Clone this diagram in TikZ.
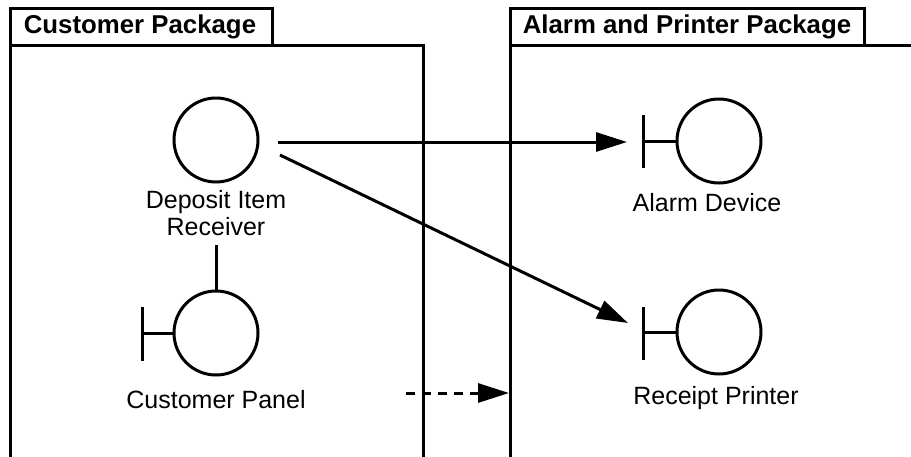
\documentclass[tikz,border=0pt]{standalone}
\usepackage{fontspec}
\setmainfont{Liberation Sans}
\usetikzlibrary{arrows.meta}
\begin{document}
\begin{tikzpicture}[x=1pt,y=-1pt,
  line width=3pt,
  ucirc/.style={circle,draw,line width=3pt,minimum size=84pt,inner sep=0pt},
  lbl/.style={font=\fontsize{25}{27}\selectfont,align=center,inner sep=0pt},
  ttl/.style={font=\fontsize{25.8}{27}\selectfont\bfseries,inner sep=0pt},
  tabbox/.style={draw,line width=3pt,inner sep=0pt},
  arr/.style={-{Triangle[length=31pt,width=19pt]},line width=3pt},
  darr/.style={arr,dash pattern=on 9pt off 7pt}
]
\useasboundingbox (0,0) rectangle (911,456);
% packages
\draw (10,45) -- (423,45) -- (423,458);
\draw (10,8) -- (10,458);
\node[tabbox,minimum width=262pt,minimum height=37pt] (tab1) at (141,26.5) {};
\node[ttl] (t1) at (140,27) {Customer Package};
\draw (864,45) -- (913,45);
\draw (510,8) -- (510,458);
\node[tabbox,minimum width=354pt,minimum height=37pt] (tab2) at (687,26.5) {};
\node[ttl] (t2) at (687,27) {Alarm and Printer Package};
% Deposit Item Receiver
\node[ucirc] (dir) at (216,140) {};
\node[lbl] (dirl) at (216,213) {Deposit Item\\Receiver};
% Customer Panel
\node[ucirc] (cp) at (216,333) {};
\coordinate (cpstem) at (216,245);
\draw (cpstem) -- (cp.north);
\coordinate (cpbar) at (142,333);
\draw (142,307) -- (142,361);
\draw (cpbar) -- (cp.west);
\node[lbl] (cpl) at (216,400) {Customer Panel};
% Alarm Device
\node[ucirc] (ad) at (719,141) {};
\coordinate (adbar) at (643,141);
\draw (643,115) -- (643,168);
\draw (adbar) -- (ad.west);
\node[lbl] (adl) at (707,203) {Alarm Device};
% Receipt Printer
\node[ucirc] (rp) at (719,332) {};
\coordinate (rpbar) at (643,332);
\draw (643,307) -- (643,360);
\draw (rpbar) -- (rp.west);
\node[lbl] (rpl) at (716,398) {Receipt Printer};
% connectors
\coordinate (s1) at (278,142);
\coordinate (e1) at (627,142);
\coordinate (s2) at (280,155);
\coordinate (e2) at (628,323);
\coordinate (s3) at (406,393);
\coordinate (e3) at (509,393);
\draw[arr] (s1) -- (e1);
\draw[arr] (s2) -- (e2);
\draw[darr] (s3) -- (e3);
\end{tikzpicture}
\end{document}
